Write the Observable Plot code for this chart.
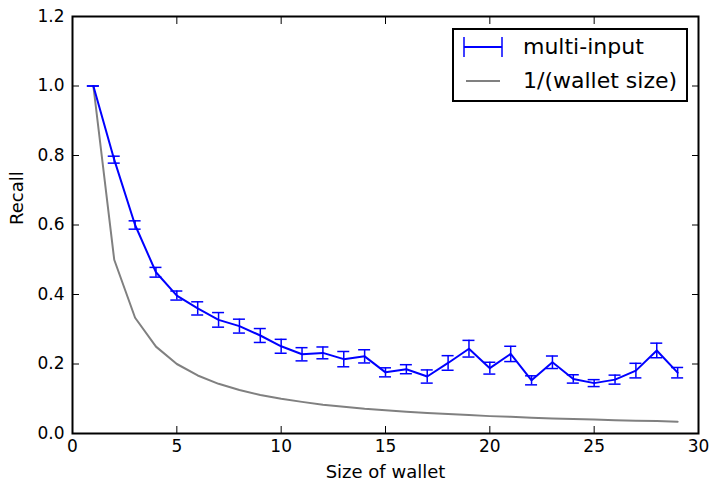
<!DOCTYPE html>
<html>
<head>
<meta charset="utf-8">
<script src="https://cdn.jsdelivr.net/npm/d3@7"></script>
<script src="https://cdn.jsdelivr.net/npm/@observablehq/plot@0.6"></script>
<style>
  html, body { margin: 0; padding: 0; background: white; }
  #wrap { position: relative; width: 712px; height: 487px; font-family: "DejaVu Sans", sans-serif; }
  #legend { position: absolute; left: 452px; top: 28px; width: 232px; height: 70px; border: 2px solid black; background: white; }
  .row { position: absolute; left: 0; height: 30px; display: flex; align-items: center; font-size: 22px; color: black; }
  .row svg { position: absolute; left: 8px; }
  .row span { position: absolute; left: 69px; white-space: nowrap; line-height: 30px; }
</style>
</head>
<body>
<div id="wrap"></div>
<script>
const sizes = [1, 2, 3, 4, 5, 6, 7, 8, 9, 10, 11, 12, 13, 14, 15, 16, 17, 18, 19, 20, 21, 22, 23, 24, 25, 26, 27, 28, 29];
const recall = [1.0, 0.788, 0.600, 0.464, 0.397, 0.360, 0.327, 0.309, 0.282, 0.251, 0.228, 0.232, 0.214, 0.222, 0.176, 0.185, 0.164, 0.203, 0.244, 0.188, 0.229, 0.153, 0.205, 0.157, 0.145, 0.155, 0.181, 0.239, 0.175];
const recallErr = [0.0, 0.010, 0.012, 0.014, 0.013, 0.019, 0.021, 0.020, 0.020, 0.020, 0.019, 0.017, 0.022, 0.019, 0.013, 0.013, 0.019, 0.021, 0.024, 0.017, 0.022, 0.013, 0.018, 0.012, 0.010, 0.013, 0.021, 0.021, 0.015];
const inverseSize = [1.0, 0.5, 0.333, 0.25, 0.2, 0.167, 0.143, 0.125, 0.111, 0.1, 0.091, 0.083, 0.077, 0.071, 0.067, 0.0625, 0.059, 0.056, 0.053, 0.05, 0.048, 0.045, 0.043, 0.042, 0.04, 0.038, 0.037, 0.036, 0.034];
const xTicks = [0, 5, 10, 15, 20, 25, 30];
const yTicks = [0.0, 0.2, 0.4, 0.6, 0.8, 1.0, 1.2];
const seriesNames = ["multi-input", "1/(wallet size)"];
const xLabel = "Size of wallet";
const yLabel = "Recall";

const multi = sizes.map((s, i) => ({size: s, recall: recall[i], lo: recall[i] - recallErr[i], hi: recall[i] + recallErr[i]}));
const inv = sizes.map((s, i) => ({size: s, value: inverseSize[i]}));

const chart = Plot.plot({
  width: 712,
  height: 487,
  marginLeft: 72,
  marginRight: 14,
  marginTop: 16,
  marginBottom: 54,
  style: {fontFamily: "DejaVu Sans", fontSize: "17px", color: "black", background: "white"},
  x: {domain: [0, 30]},
  y: {domain: [0, 1.2]},
  marks: [
    Plot.line(inv, {x: "size", y: "value", stroke: "#808080", strokeWidth: 2}),
    Plot.ruleX(multi, {x: "size", y1: "lo", y2: "hi", stroke: "blue", strokeWidth: 1.5}),
    Plot.ruleY(multi, {y: "lo", x1: "size", x2: "size", insetLeft: -6, insetRight: -6, stroke: "blue", strokeWidth: 1.5}),
    Plot.ruleY(multi, {y: "hi", x1: "size", x2: "size", insetLeft: -6, insetRight: -6, stroke: "blue", strokeWidth: 1.5}),
    Plot.line(multi, {x: "size", y: "recall", stroke: "blue", strokeWidth: 2}),
    Plot.axisX(xTicks, {anchor: "bottom", tickSize: -7, tickPadding: 13, label: null}),
    Plot.axisX(xTicks, {anchor: "top", tickSize: -7, tickFormat: () => "", label: null}),
    Plot.axisY(yTicks, {anchor: "left", tickSize: -7, tickPadding: 15, tickFormat: d3.format(".1f"), label: null}),
    Plot.axisY(yTicks, {anchor: "right", tickSize: -7, tickFormat: () => "", label: null}),
    Plot.text([xLabel], {text: d => d, frameAnchor: "bottom", dy: 44, fontSize: 18}),
    Plot.text([yLabel], {text: d => d, frameAnchor: "left", dx: -55, rotate: -90, fontSize: 18}),
    Plot.frame({stroke: "black", strokeWidth: 2})
  ]
});

const wrap = document.getElementById("wrap");
wrap.appendChild(chart);

const legend = document.createElement("div");
legend.id = "legend";
legend.innerHTML = `
  <div class="row" style="top:2px;width:100%">
    <svg width="42" height="24" viewBox="0 0 42 24"><line x1="2" y1="12" x2="40" y2="12" stroke="blue" stroke-width="2"/><line x1="2" y1="2" x2="2" y2="22" stroke="blue" stroke-width="1.5"/><line x1="40" y1="2" x2="40" y2="22" stroke="blue" stroke-width="1.5"/></svg>
    <span>${seriesNames[0]}</span>
  </div>
  <div class="row" style="top:36px;width:100%">
    <svg width="42" height="24" viewBox="0 0 42 24"><line x1="4" y1="12" x2="38" y2="12" stroke="#808080" stroke-width="2"/></svg>
    <span>${seriesNames[1]}</span>
  </div>`;
wrap.appendChild(legend);
</script>
</body>
</html>
